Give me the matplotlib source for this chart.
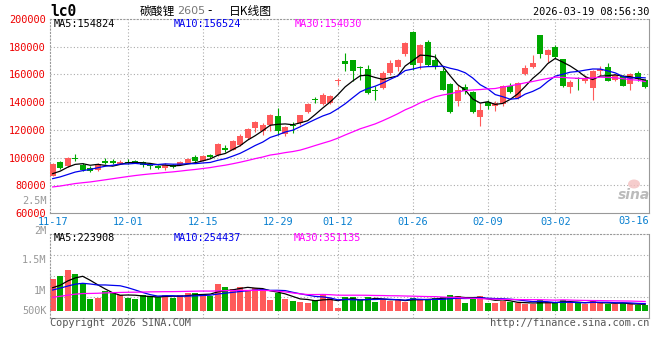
import numpy as np
import pandas as pd
import matplotlib
matplotlib.use('Agg')
import matplotlib.pyplot as plt
from matplotlib.patches import Ellipse

# figure size in pixels
W, H = 660, 360

# daily candles 11-17 .. 03-18
opens = [87000, 96600, 93700, 99800, 94700, 92500, 90900, 97800, 97400, 95700,
         97100, 97100, 97100, 95000, 93700, 92500, 94700, 95000, 96200, 100200,
         97800, 102200, 101900, 107000, 105800, 108900, 114200, 121400, 119000, 123800,
         130300, 117100, 123800, 124600, 132700, 142000, 138800, 139700, 155500, 169500,
         170300, 165200, 164000, 148900, 150300, 160700, 165500, 174400, 190500, 168400,
         183300, 170300, 162300, 153200, 140700, 151000, 147200, 129100, 139900, 137500,
         138300, 151500, 143100, 160400, 165200, 188100, 174100, 179900, 170800, 150800,
         157500, 154900, 150300, 162300, 165500, 155800, 158700, 153200, 161100, 156300]
highs = [96000, 97300, 100700, 102900, 96200, 93700, 96200, 99500, 99000, 98100,
         99000, 98300, 97800, 96200, 94700, 96200, 95200, 97600, 99800, 101900,
         102000, 102900, 110600, 109400, 113000, 117300, 121400, 126200, 125000, 131800,
         135900, 123100, 125500, 131000, 139500, 144000, 146500, 145000, 157600, 175600,
         170700, 165900, 167100, 151500, 162300, 170300, 171200, 183300, 191200, 181600,
         184700, 174900, 164700, 154000, 152700, 153200, 147900, 139500, 141900, 140700,
         152700, 153900, 154400, 167100, 173700, 188800, 178500, 180900, 171200, 156300,
         158200, 159900, 163500, 165900, 168400, 160400, 159900, 161100, 162300, 156800]
lows = [86700, 91800, 93300, 97300, 90100, 89400, 90100, 95400, 95000, 95000,
        95400, 95900, 93000, 91800, 91800, 91300, 92300, 94500, 95900, 96600,
        97300, 99800, 101400, 103900, 105300, 108200, 113700, 118300, 116600, 119000,
        116600, 115900, 117800, 123800, 132000, 139500, 138000, 139000, 152200, 162300,
        155100, 156300, 146200, 141900, 149600, 159900, 162300, 173600, 163500, 164000,
        165900, 164000, 148600, 132200, 137100, 146200, 132200, 123100, 135100, 133500,
        137500, 146700, 142300, 159900, 164700, 172000, 168800, 172000, 151000, 146700,
        149100, 153900, 141900, 159200, 154900, 155100, 151500, 149100, 155100, 150300]
closes = [95700, 92500, 99800, 99000, 90900, 90100, 95700, 96200, 96200, 97100,
          96400, 96600, 94700, 94200, 92500, 95000, 93300, 96600, 99300, 97400,
          101400, 100500, 109600, 105800, 111600, 115400, 120700, 125500, 123800, 131000,
          119000, 122100, 122600, 130600, 138800, 141200, 145500, 144500, 156300, 167700,
          162300, 164300, 146700, 147900, 161100, 168400, 170300, 182800, 167100, 181100,
          166700, 165200, 149100, 132700, 149100, 147900, 132700, 134200, 137500, 139500,
          151500, 147200, 153900, 164700, 168400, 174400, 177500, 172700, 151500, 154400,
          156600, 156800, 162300, 164000, 155600, 159900, 152000, 160400, 156800, 150800]
vols = [1123000, 1187600, 1298700, 1220800, 1051300, 733800, 753200, 889600, 844800, 811700,
        759100, 733800, 811700, 798000, 766900, 805800, 759100, 805800, 856500, 850600,
        837000, 792200, 1026000, 973400, 928600, 973400, 903200, 948000, 928600, 714300,
        844800, 733800, 700600, 681200, 661700, 720100, 817500, 747400, 564300, 778600,
        778600, 714300, 778600, 681200, 727900, 694800, 727900, 681200, 759100, 727900,
        727900, 759100, 778600, 811700, 798000, 661700, 759100, 798000, 661700, 661700,
        700600, 669500, 650000, 630500, 630500, 714300, 681200, 650000, 714300, 650000,
        661700, 630500, 714300, 650000, 630500, 630500, 661700, 630500, 616900, 616900]

# 29 sessions before 11-17 (not shown), guessed from where the MA lines start
prev_close = [72500, 73000, 72200, 72800, 73500, 72600, 73100, 72400, 73400, 73500,
              74500, 76000, 77500, 78000, 79500, 80000, 79000, 80500, 81000, 81000,
              80000, 82500, 81500, 80500, 81500, 83500, 85500, 88800, 88500]
prev_vol = [620000, 650000, 600000, 700000, 680000, 640000, 660000, 720000, 690000, 650000,
            700000, 730000, 680000, 710000, 750000, 740000, 720000, 760000, 740000, 780000,
            820000, 900000, 850000, 880000, 870000, 950000, 880000, 927000, 890000]

tick_idx = [0, 10, 20, 30, 38, 48, 58, 67, 77]
tick_lbl = ['11-17', '12-01', '12-15', '12-29', '01-12', '01-26', '02-09', '03-02', '03-16']

price_ticks = [60000, 80000, 100000, 120000, 140000, 160000, 180000, 200000]
vol_labels = [('2.5M', 201), ('2M', 231), ('1.5M', 260), ('1M', 291), ('500K', 311)]

RED = '#ff5a5a'
GREEN = '#00a800'
GRID = '#aaaaaa'
EDGE = '#999999'
MA_COLORS = ['black', '#0000ee', '#ff00ff']

plt.rcParams['font.family'] = ['DejaVu Sans Mono', 'Noto Sans CJK SC']

def fx(x):
    return x / W

def fy(y):
    return 1 - y / H

n = len(closes)
x = np.arange(n)
o = np.array(opens); c = np.array(closes)
hi = np.array(highs); lo = np.array(lows)
up = c >= o
col = np.where(up, RED, GREEN)

allc = pd.Series(prev_close + closes)
allv = pd.Series(prev_vol + vols)
k = len(prev_close)

fig = plt.figure(figsize=(W / 100, H / 100), dpi=100)
ax = fig.add_axes([fx(50), fy(213), 599 / W, 194 / H])
av = fig.add_axes([fx(50), fy(318), 599 / W, 84 / H])

xlim = (-2.7 / 7.5, 596.3 / 7.5)

# ---- price panel
for g in price_ticks[1:-1]:
    ax.axhline(g, color=GRID, lw=0.8, ls=(0, (1, 2)), zorder=0)
for t in tick_idx[1:-1]:
    ax.axvline(t, color=GRID, lw=0.8, ls=(0, (1, 2)), zorder=0)

ax.vlines(x, lo, hi, colors=col, lw=0.8, zorder=2)
body_lo = np.minimum(o, c)
body_h = np.maximum(np.abs(c - o), 700)
ax.bar(x, body_h, bottom=body_lo, width=0.76, color=col, lw=0, zorder=3)

for w, cc in zip([5, 10, 30], MA_COLORS):
    ma = allc.rolling(w).mean().iloc[k:].values
    ax.plot(x, ma, color=cc, lw=0.9, zorder=4)

ax.set_xlim(*xlim)
ax.set_ylim(60000, 200000)
ax.set_yticks(price_ticks)
ax.set_yticklabels([str(p) for p in price_ticks], color='#ee0000', fontsize=7.4)
ax.set_xticks(tick_idx[:-1])
ax.set_xticklabels(tick_lbl[:-1], color='#0a80d0', fontsize=7.4)
ax.tick_params(length=0, pad=3)
fig.text(fx(649), fy(221), tick_lbl[-1], color='#0a80d0', fontsize=7.4,
         ha='right', va='center')

# ---- volume panel
vtop, vbase = 2000000, 500000
vlo = vbase - (318 - 311) / (311 - 234) * (vtop - vbase)
for f in (0.25, 0.5, 0.75):
    av.axhline(vlo + f * (vtop - vlo), color=GRID, lw=0.8, ls=(0, (1, 2)), zorder=0)
for t in tick_idx[1:-1]:
    av.axvline(t, color=GRID, lw=0.8, ls=(0, (1, 2)), zorder=0)

v = np.array(vols)
av.bar(x, v - vbase, bottom=vbase, width=0.8, color=col, lw=0, zorder=2)
for w, cc in zip([5, 10, 30], MA_COLORS):
    ma = allv.rolling(w).mean().iloc[k:].values
    av.plot(x, ma, color=cc, lw=0.9, zorder=4)
av.set_xlim(*xlim)
av.set_ylim(vlo, vtop)
av.set_xticks([])
av.set_yticks([])

for a in (ax, av):
    for s in a.spines.values():
        s.set_color(EDGE)
        s.set_linewidth(0.8)
    a.spines['left'].set_linestyle((0, (1, 2)))
    a.spines['top'].set_linestyle((0, (1, 2)))

for lbl, yy in vol_labels:
    fig.text(fx(46.5), fy(yy), lbl, color='#999999', fontsize=7.4, ha='right', va='center')

# ---- header and legends
fig.text(fx(50), fy(11.5), 'lc0', fontsize=10.5, fontweight='bold', va='center')
fig.text(fx(140), fy(11), '碳酸锂', fontsize=8.5, va='center', family='Noto Sans CJK SC')
fig.text(fx(177), fy(11), '2605', fontsize=8, va='center', color='#777777',
         family='DejaVu Sans')
fig.text(fx(207), fy(11), '-', fontsize=8.5, va='center', family='DejaVu Sans')
fig.text(fx(229), fy(11), '日K线图', fontsize=8.5, va='center', family='Noto Sans CJK SC')
fig.text(fx(649), fy(12), '2026-03-19 08:56:30', fontsize=7.4, ha='right', va='center')

for xx, s, cc in [(54, 'MA5:154824', MA_COLORS[0]), (174, 'MA10:156524', MA_COLORS[1]),
                  (295, 'MA30:154030', MA_COLORS[2])]:
    fig.text(fx(xx), fy(24), s, color=cc, fontsize=7.4, va='center')
for xx, s, cc in [(54, 'MA5:223908', MA_COLORS[0]), (174, 'MA10:254437', MA_COLORS[1]),
                  (294, 'MA30:351135', MA_COLORS[2])]:
    fig.text(fx(xx), fy(238), s, color=cc, fontsize=7.4, va='center')

# sina watermark
fig.patches.append(Ellipse((fx(634), fy(184)), 12 / W, 9 / H, transform=fig.transFigure,
                           facecolor='#f4c0c0', edgecolor='none', alpha=0.8))
fig.text(fx(650), fy(195), 'sina', fontsize=10, fontweight='bold', style='italic',
         color='#bbbbbb', ha='right', va='center', family='DejaVu Sans')

fig.text(fx(50), fy(323.5), 'Copyright 2026 SINA.COM', color='#555555', fontsize=7.4,
         va='center')
fig.text(fx(649), fy(323.5), 'http://finance.sina.com.cn', color='#555555', fontsize=7.4,
         ha='right', va='center')

fig.savefig('out.png', dpi=100, facecolor='white')
